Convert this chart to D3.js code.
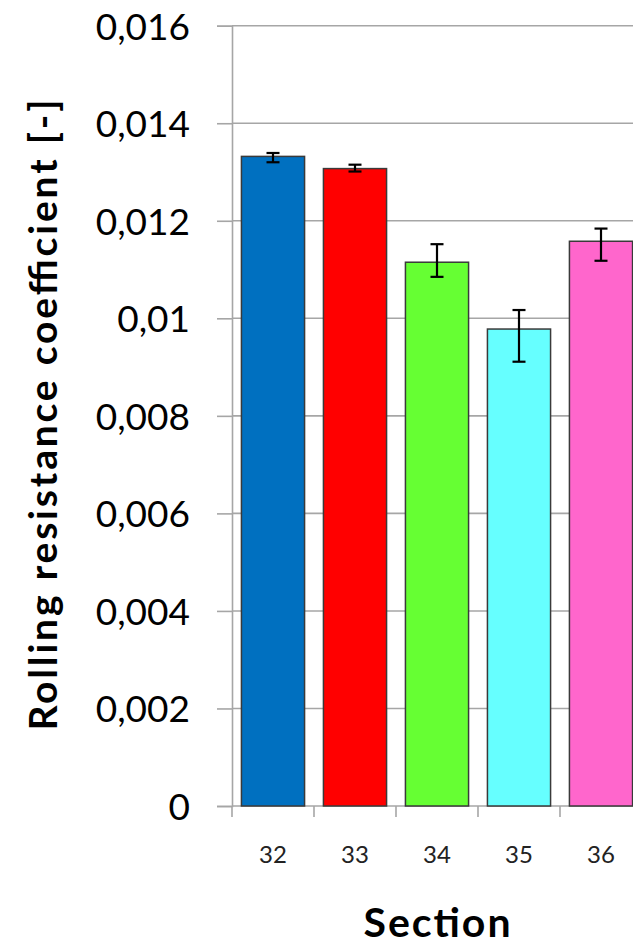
<!DOCTYPE html>
<html>
<head>
<meta charset="utf-8">
<script src="https://cdn.jsdelivr.net/npm/d3@7"></script>
<style>
  html, body { margin: 0; padding: 0; background: #fff; overflow: hidden; }
  svg { display: block; }
</style>
</head>
<body>
<div id="chart"></div>
<script>
// ---- data ----
const categories = ["32", "33", "34", "35", "36"];
const values     = [0.01332, 0.01307, 0.01115, 0.00978, 0.01158];
const errHigh    = [0.01339, 0.01315, 0.01152, 0.01017, 0.01184];
const errLow     = [0.01320, 0.01301, 0.01085, 0.00911, 0.01118];
const barColors  = ["#0070C0", "#FF0000", "#66FF33", "#66FFFF", "#FF66CC"];
const yTicks     = [0, 0.002, 0.004, 0.006, 0.008, 0.010, 0.012, 0.014, 0.016];
const yTickLabels = ["0", "0,002", "0,004", "0,006", "0,008", "0,01", "0,012", "0,014", "0,016"];
const yTitle = "Rolling resistance coefficient [-]";
const xTitle = "Section";

// ---- layout ----
const W = 633, H = 948;
const plotLeft = 232, plotRight = 642, plotTop = 25.7, plotBottom = 806;
const gridColor = "#A6A6A6";

const svg = d3.select("#chart").append("svg")
  .attr("width", W).attr("height", H);

const x = d3.scaleBand().domain(categories).range([plotLeft, plotRight])
  .paddingInner(0.23).paddingOuter(0.115);
const y = d3.scaleLinear().domain([0, 0.016]).range([plotBottom, plotTop]);

// gridlines
svg.append("g").selectAll("line")
  .data(yTicks.filter(t => t > 0))
  .join("line")
  .attr("x1", plotLeft).attr("x2", plotRight)
  .attr("y1", d => y(d)).attr("y2", d => y(d))
  .attr("stroke", gridColor).attr("stroke-width", 1.6);

// y axis
const yAxis = d3.axisLeft(y).tickValues(yTicks)
  .tickFormat((d, i) => yTickLabels[i]).tickSize(15).tickPadding(27);
const yg = svg.append("g").attr("transform", `translate(${plotLeft},0)`).call(yAxis);
yg.select(".domain").attr("stroke", gridColor).attr("stroke-width", 1.6);
yg.selectAll(".tick line").attr("stroke", gridColor).attr("stroke-width", 1.6);
yg.selectAll(".tick text")
  .attr("font-family", "Lato, 'Open Sans', sans-serif")
  .attr("font-size", 37).attr("fill", "#000").attr("dy", "0.36em");

// x axis
const step = x.step();
const boundaries = categories.map(c => x(c) - x.paddingInner() * step / 2).concat([plotRight]);
const xg = svg.append("g");
xg.append("line").attr("x1", plotLeft).attr("x2", plotRight)
  .attr("y1", plotBottom).attr("y2", plotBottom)
  .attr("stroke", gridColor).attr("stroke-width", 1.6);
xg.selectAll("line.tk").data(boundaries).join("line").attr("class", "tk")
  .attr("x1", d => d).attr("x2", d => d)
  .attr("y1", plotBottom).attr("y2", plotBottom + 11)
  .attr("stroke", gridColor).attr("stroke-width", 1.6);
xg.selectAll("text").data(categories).join("text")
  .attr("x", d => x(d) + x.bandwidth() / 2)
  .attr("y", 863)
  .attr("text-anchor", "middle")
  .attr("font-family", "Lato, 'Open Sans', sans-serif")
  .attr("font-size", 24).attr("fill", "#222")
  .text(d => d);

// bars
svg.append("g").selectAll("rect").data(categories).join("rect")
  .attr("x", d => x(d))
  .attr("y", (d, i) => y(values[i]))
  .attr("width", x.bandwidth())
  .attr("height", (d, i) => y(0) - y(values[i]))
  .attr("fill", (d, i) => barColors[i])
  .attr("stroke", "#3a3a3a").attr("stroke-width", 1.5);

// error bars
const eb = svg.append("g").attr("stroke", "#000").attr("stroke-width", 2.2);
categories.forEach((c, i) => {
  const cx = x(c) + x.bandwidth() / 2;
  eb.append("line").attr("x1", cx).attr("x2", cx)
    .attr("y1", y(errHigh[i])).attr("y2", y(errLow[i]));
  [errHigh[i], errLow[i]].forEach(v => {
    eb.append("line").attr("x1", cx - 6.5).attr("x2", cx + 6.5)
      .attr("y1", y(v)).attr("y2", y(v));
  });
});

// axis titles
svg.append("text")
  .attr("transform", `translate(57,415) rotate(-90)`)
  .attr("text-anchor", "middle")
  .attr("font-family", "Lato, 'Open Sans', sans-serif")
  .attr("font-weight", "bold").attr("font-size", 39).attr("fill", "#000")
  .attr("textLength", 631).attr("lengthAdjust", "spacing")
  .text(yTitle);

svg.append("text")
  .attr("x", 437).attr("y", 937)
  .attr("text-anchor", "middle")
  .attr("font-family", "Lato, 'Open Sans', sans-serif")
  .attr("font-weight", "bold").attr("font-size", 41).attr("fill", "#000")
  .attr("textLength", 147).attr("lengthAdjust", "spacing")
  .text(xTitle);
</script>
</body>
</html>
